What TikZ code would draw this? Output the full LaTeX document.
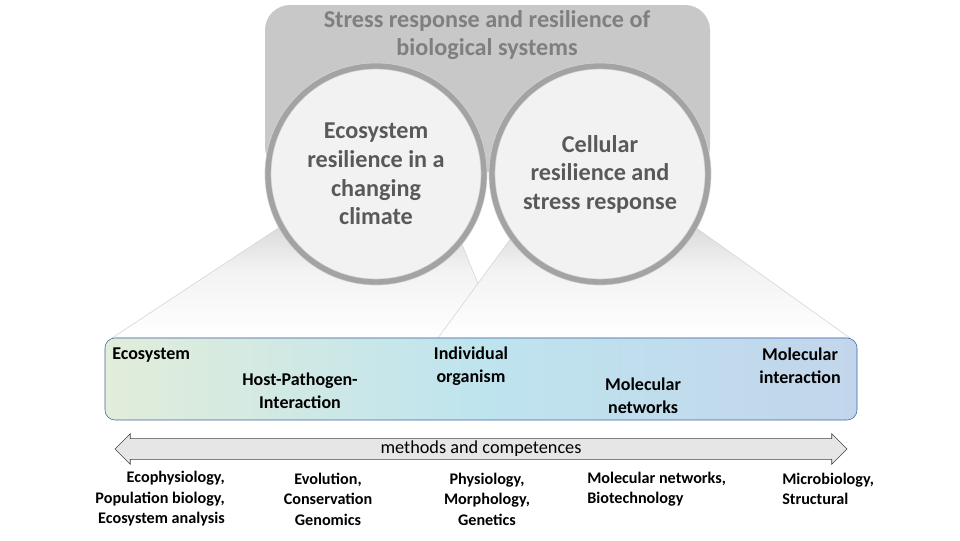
\documentclass[tikz,border=0pt]{standalone}
\usepackage{fontspec}
\setmainfont{Carlito}
\usepackage{tikz}
\usetikzlibrary{positioning,shapes.arrows}
\definecolor{topgray}{HTML}{C8C8C8}
\definecolor{titlegray}{HTML}{7F7F7F}
\definecolor{darktext}{HTML}{595959}
\definecolor{circfill}{HTML}{F2F2F2}
\definecolor{ringgray}{HTML}{A3A3A3}
\definecolor{edgegray}{HTML}{D4D4D4}
\definecolor{scalegreen}{HTML}{E2EDDA}
\definecolor{scalecyan}{HTML}{BEE4EE}
\definecolor{scaleblue}{HTML}{C2D5EC}
\definecolor{scaleline}{HTML}{3F62A8}
\definecolor{arrowfill}{HTML}{E7E6E6}
\newcommand\unitpx{0.025cm}
\tikzset{
  titletext/.style={align=center,text=titlegray,font=\bfseries\fontsize{17.2}{20}\selectfont},
  proj/.style={top color=gray!40,bottom color=white,middle color=gray!10,draw=edgegray,thin},
  circ/.style={circle,minimum size=216*\unitpx,fill=circfill,draw=gray!35,line width=0.5pt,
    double=ringgray,double distance=3.8pt,align=center,text=darktext,
    font=\bfseries\fontsize{17.2}{20.3}\selectfont},
  scalebox/.style={draw=scaleline,rounded corners=10*\unitpx,minimum width=752*\unitpx,
    minimum height=82*\unitpx,left color=scalegreen,right color=scaleblue,middle color=scalecyan},
  lvl/.style={align=center,font=\bfseries\fontsize{12.8}{16.5}\selectfont,inner sep=0pt},
  methodarrow/.style={double arrow,draw=black!75,fill=arrowfill,minimum height=732*\unitpx,
    double arrow tip angle=90,double arrow head extend=3.5pt,inner ysep=1.6pt,
    font=\fontsize{13}{14}\selectfont},
  meth/.style={font=\bfseries\fontsize{11.5}{14.6}\selectfont,inner sep=0pt}
}
\begin{document}
\begin{tikzpicture}[x=0.025cm,y=-0.025cm]
\useasboundingbox (0,0) rectangle (960,540);
% top frame
\fill[topgray,rounded corners=25*\unitpx] (265,5) rectangle (710,172);
\node[titletext] (head) at (487,35) {Stress response and resilience of\\biological systems};
% projections onto the scale
\shade[proj] (112,338) -- (321,200) -- (444,200) -- (500,338) -- cycle;
\shade[proj] (438,338) -- (539,200) -- (657,200) -- (850,338) -- cycle;
\node[circ] (eco) at (376,174) {Ecosystem\\resilience in a\\changing\\climate};
\node[circ] (cell) at (600,174) {Cellular\\resilience and\\stress response};
% scale of organisation
\node[scalebox] (scale) at (481,379) {};
\node[lvl,anchor=west] (ecosys) at (112,355) {Ecosystem};
\node[lvl] (host) at (300,391) {Host-Pathogen-\\Interaction};
\node[lvl] (indiv) at (471,366) {Individual\\organism};
\node[lvl] (molnet) at (643,396) {Molecular\\networks};
\node[lvl] (molint) at (800,366) {Molecular\\interaction};
% methods
\node[methodarrow] (methods) at (481,449) {methods and competences};
\node[meth,align=right,anchor=east] (m1) at (225,499) {Ecophysiology,\\Population biology,\\Ecosystem analysis};
\node[meth,align=center] (m2) at (328,499) {Evolution,\\Conservation\\Genomics};
\node[meth,align=center] (m3) at (487,499) {Physiology,\\Morphology,\\Genetics};
\node[meth,align=left,anchor=west] (m4) at (587,489) {Molecular networks,\\Biotechnology};
\node[meth,align=left,anchor=west] (m5) at (782,489) {Microbiology,\\Structural};
\end{tikzpicture}
\end{document}
